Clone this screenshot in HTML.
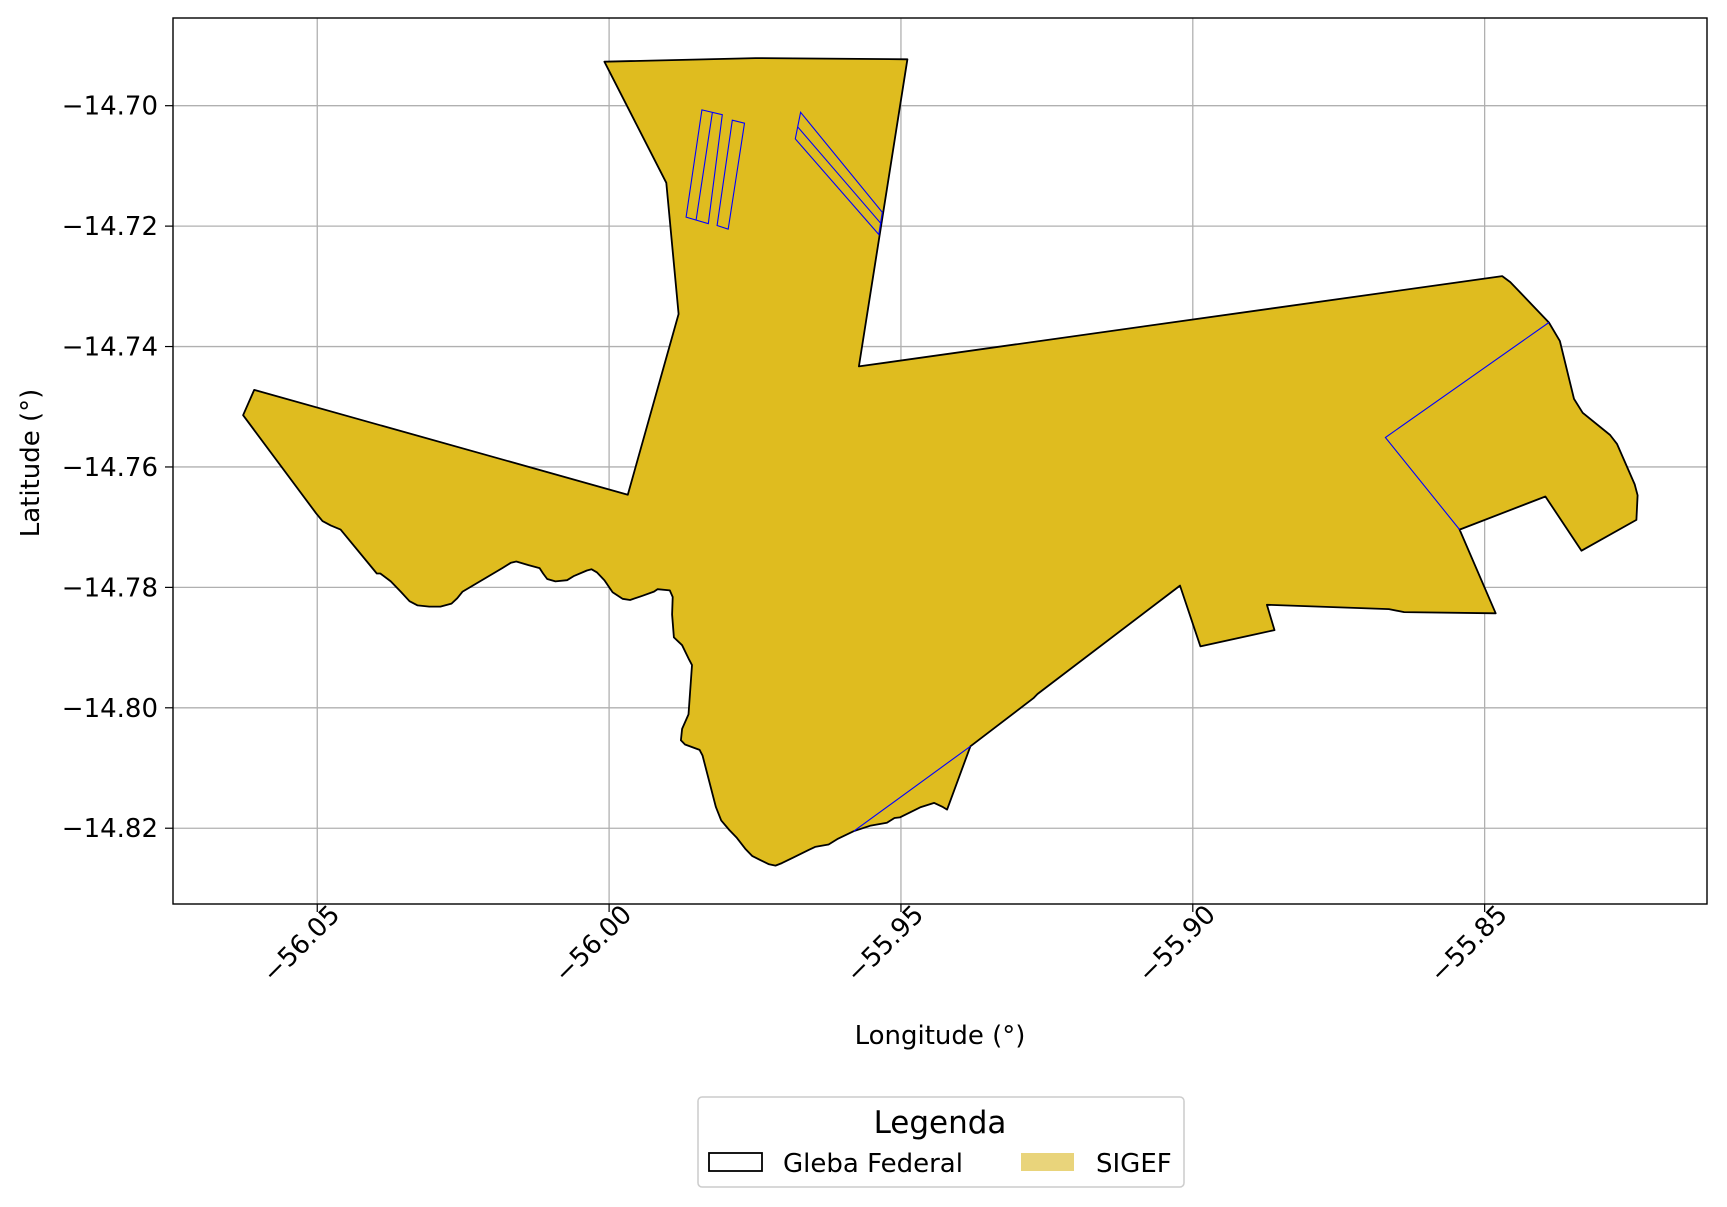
<!DOCTYPE html>
<html><head><meta charset="utf-8">
<style>
html,body{margin:0;padding:0;background:#fff;}
svg{display:block;font-family:"DejaVu Sans","Liberation Sans",sans-serif;}
</style></head>
<body>
<svg id="chart" width="1727" height="1207" viewBox="0 0 1727 1207" xmlns="http://www.w3.org/2000/svg">
<g id="grid"></g>
<g id="shapes"></g>
<rect x="173" y="18" width="1534" height="886" fill="none" stroke="#000" stroke-width="1.4"/>
<g id="ticks"></g>
<text x="940" y="1044" font-size="26" text-anchor="middle">Longitude (°)</text>
<text transform="translate(39,463) rotate(-90)" font-size="26" text-anchor="middle">Latitude (°)</text>
<g>
<rect x="698" y="1097" width="486" height="90" rx="4" fill="#fff" stroke="#ccc" stroke-width="1.5"/>
<text x="940" y="1133" font-size="31" text-anchor="middle">Legenda</text>
<rect x="709" y="1153" width="53" height="18" fill="none" stroke="#000" stroke-width="1.8"/>
<text x="783" y="1172" font-size="26">Gleba Federal</text>
<rect x="1021" y="1153" width="53" height="18" fill="#e9d47b"/>
<text x="1096" y="1172" font-size="26">SIGEF</text>
</g>
</svg>
<script>
const xTicks=[-56.05,-56.00,-55.95,-55.90,-55.85];
const xTickLabels=["\u221256.05","\u221256.00","\u221255.95","\u221255.90","\u221255.85"];
const yTicks=[-14.70,-14.72,-14.74,-14.76,-14.78,-14.80,-14.82];
const yTickLabels=["\u221214.70","\u221214.72","\u221214.74","\u221214.76","\u221214.78","\u221214.80","\u221214.82"];
const glebaLon=[-56.0008,-55.9749,-55.9489,-55.9572,-55.8470,-55.8456,-55.8390,-55.8371,-55.8347,-55.8332,-55.8285,-55.8273,-55.8243,-55.8238,-55.8240,-55.8334,-55.8396,-55.8543,-55.8481,-55.8638,-55.8664,-55.8873,-55.8860,-55.8987,-55.9022,-55.9266,-55.9273,-55.9381,-55.9421,-55.9428,-55.9443,-55.9466,-55.9485,-55.9502,-55.9511,-55.9524,-55.9553,-55.9581,-55.9609,-55.9624,-55.9647,-55.9658,-55.9685,-55.9704,-55.9715,-55.9726,-55.9741,-55.9755,-55.9766,-55.9781,-55.9794,-55.9808,-55.9817,-55.9840,-55.9845,-55.9870,-55.9877,-55.9875,-55.9864,-55.9858,-55.9864,-55.9875,-55.9889,-55.9892,-55.9891,-55.9896,-55.9917,-55.9923,-55.9943,-55.9964,-55.9977,-55.9994,-56.0008,-56.0021,-56.0030,-56.0038,-56.0060,-56.0072,-56.0092,-56.0106,-56.0113,-56.0119,-56.0138,-56.0159,-56.0168,-56.0183,-56.0251,-56.0260,-56.0270,-56.0289,-56.0308,-56.0328,-56.0342,-56.0357,-56.0374,-56.0392,-56.0398,-56.0460,-56.0477,-56.0491,-56.0502,-56.0627,-56.0608,-55.9968,-55.9881,-55.9902];
const glebaLat=[-14.6927,-14.6921,-14.6923,-14.7433,-14.7283,-14.7293,-14.7360,-14.7391,-14.7487,-14.7510,-14.7547,-14.7562,-14.7629,-14.7647,-14.7688,-14.7739,-14.7649,-14.7704,-14.7843,-14.7841,-14.7836,-14.7829,-14.7871,-14.7898,-14.7797,-14.7977,-14.7984,-14.8064,-14.8169,-14.8165,-14.8158,-14.8165,-14.8174,-14.8182,-14.8183,-14.8191,-14.8196,-14.8205,-14.8218,-14.8227,-14.8231,-14.8236,-14.8249,-14.8258,-14.8262,-14.8260,-14.8253,-14.8246,-14.8235,-14.8216,-14.8203,-14.8187,-14.8165,-14.8079,-14.8070,-14.8061,-14.8054,-14.8035,-14.8011,-14.7929,-14.7918,-14.7896,-14.7883,-14.7845,-14.7816,-14.7805,-14.7803,-14.7807,-14.7814,-14.7821,-14.7819,-14.7808,-14.7788,-14.7775,-14.7770,-14.7772,-14.7781,-14.7788,-14.7790,-14.7786,-14.7777,-14.7768,-14.7763,-14.7757,-14.7759,-14.7768,-14.7807,-14.7818,-14.7827,-14.7832,-14.7832,-14.7830,-14.7823,-14.7807,-14.7790,-14.7777,-14.7777,-14.7704,-14.7697,-14.7690,-14.7677,-14.7514,-14.7472,-14.7646,-14.7346,-14.7128];
const parcelsLon=[[-55.9841,-55.9806,-55.9830,-55.9868],[-55.9789,-55.9768,-55.9796,-55.9815],[-55.9672,-55.9532,-55.9538,-55.9681],[-55.8390,-55.8670,-55.8543],[-55.9581,-55.9381]];
const parcelsLat=[[-14.7007,-14.7015,-14.7196,-14.7185],[-14.7024,-14.7029,-14.7205,-14.7199],[-14.7011,-14.7177,-14.7214,-14.7055],[-14.7360,-14.7551,-14.7704],[-14.8205,-14.8064]];
const parcelsClosed=[true,true,true,false,false];
const innerLon=[[-55.9823,-55.9851],[-55.9677,-55.9534]];
const innerLat=[[-14.7011,-14.7190],[-14.7035,-14.7196]];

const NS="http://www.w3.org/2000/svg";
function X(lon){return 609.1+(lon+56)*5837;}
function Y(lat){return 105.7+(-14.70-lat)*6021;}
function mk(tag,attrs,parent){const e=document.createElementNS(NS,tag);for(const k in attrs)e.setAttribute(k,attrs[k]);parent.appendChild(e);return e;}
const grid=document.getElementById('grid'),ticks=document.getElementById('ticks'),shapes=document.getElementById('shapes');
xTicks.forEach((v,i)=>{const x=X(v);
 const g=mk('line',{x1:x,x2:x,y1:18,y2:904,stroke:'#b0b0b0','stroke-width':1.3},grid);
 
 
 const t=mk('line',{x1:x,x2:x,y1:904,y2:912,stroke:'#000','stroke-width':1.2},ticks);
 
 
 const l=mk('text',{transform:`translate(${x+24},${916}) rotate(-45)`,'font-size':26,'text-anchor':'end'},ticks);
 l.textContent=xTickLabels[i];
 
 
});
yTicks.forEach((v,i)=>{const y=Y(v);
 const g=mk('line',{x1:173,x2:1707,y1:y,y2:y,stroke:'#b0b0b0','stroke-width':1.3},grid);
 
 
 const t=mk('line',{x1:165,x2:173,y1:y,y2:y,stroke:'#000','stroke-width':1.2},ticks);
 
 
 const l=mk('text',{x:158,y:y+9,'font-size':26,'text-anchor':'end'},ticks);
 l.textContent=yTickLabels[i];
 
 
});
const pts=glebaLon.map((v,i)=>X(v).toFixed(1)+','+Y(glebaLat[i]).toFixed(1)).join(' ');
const poly=mk('polygon',{points:pts,fill:'#dfbc1f',stroke:'#000','stroke-width':1.8,'stroke-linejoin':'round'},shapes);


parcelsLon.forEach((lons,j)=>{const p=lons.map((v,i)=>X(v).toFixed(1)+','+Y(parcelsLat[j][i]).toFixed(1)).join(' ');
 const e=mk(parcelsClosed[j]?'polygon':'polyline',{points:p,fill:'none',stroke:'#0000ff','stroke-width':1.1},shapes);
 
 
});
innerLon.forEach((lons,j)=>{const p=lons.map((v,i)=>X(v).toFixed(1)+','+Y(innerLat[j][i]).toFixed(1)).join(' ');
 const e=mk('polyline',{points:p,fill:'none',stroke:'#0000ff','stroke-width':1.1},shapes);
 
 
});
</script>
</body></html>
